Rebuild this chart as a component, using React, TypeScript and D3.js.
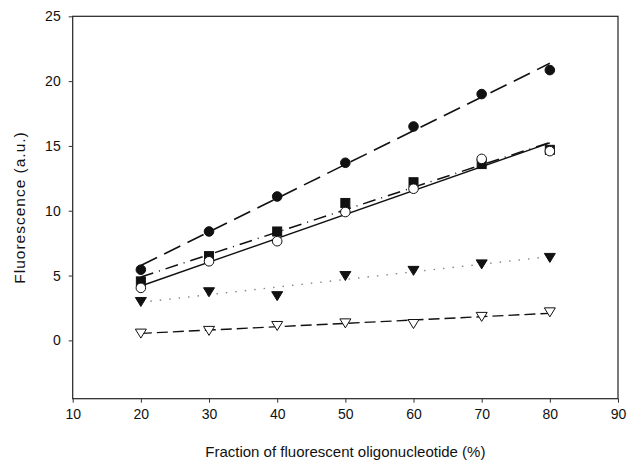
import React, { useEffect, useRef } from "react";
import * as d3 from "d3";

// fraction of fluorescent oligo (%)
const fractions = [20, 30, 40, 50, 60, 70, 80];

// fluorescence readings per series
const filledCircle = [5.45, 8.4, 11.1, 13.7, 16.5, 19.0, 20.85];
const filledSquare = [4.55, 6.5, 8.4, 10.6, 12.2, 13.6, 14.7];
const openCircle = [4.05, 6.1, 7.65, 9.9, 11.7, 14.0, 14.6];
const filledTriangle = [3.0, 3.75, 3.45, 5.0, 5.4, 5.9, 6.4];
const openTriangle = [0.56, 0.77, 1.15, 1.35, 1.3, 1.85, 2.2];

const xTicks = [10, 20, 30, 40, 50, 60, 70, 80, 90];
const yTicks = [0, 5, 10, 15, 20, 25];

const W = 628;
const H = 464;

// least squares fit, drawn over the data range like the original plot
const fit = (xs: number[], ys: number[]) => {
    const mx = d3.mean(xs)!;
    const my = d3.mean(ys)!;
    let num = 0, den = 0;
    xs.forEach((x, i) => {
        num += (x - mx) * (ys[i] - my);
        den += (x - mx) * (x - mx);
    });
    const b = num / den;
    const a = my - b * mx;
    return [xs[0], xs[xs.length - 1]].map(x => [x, a + b * x]);
};

const App = () => {
    const svgRef = useRef<SVGSVGElement>(null);

    useEffect(() => {
        const svg = d3.select(svgRef.current);
        svg.selectAll("*").remove();

        const x = d3.scaleLinear().domain([10, 90]).range([72.7, 618]);
        const y = d3.scaleLinear().domain([-4.5, 25]).range([398.7, 16.3]);
        const font = "Arial, 'Liberation Sans', sans-serif";

        svg.append("rect").attr("width", W).attr("height", H).attr("fill", "#fff");

        // frame
        svg.append("rect")
            .attr("x", x(10)).attr("y", y(25))
            .attr("width", x(90) - x(10)).attr("height", y(-4.5) - y(25))
            .attr("fill", "none").attr("stroke", "#222").attr("stroke-width", 1.2);

        // x axis
        const xAxis = svg.append("g")
            .attr("transform", `translate(0,${y(-4.5)})`)
            .call(d3.axisBottom(x).tickValues(xTicks).tickSize(4).tickPadding(6));
        xAxis.select(".domain").remove();
        xAxis.selectAll("line").attr("stroke", "#333");
        xAxis.selectAll("text").attr("font-family", font).attr("font-size", 14).attr("fill", "#111");

        // y axis
        const yAxis = svg.append("g")
            .attr("transform", `translate(${x(10)},0)`)
            .call(d3.axisLeft(y).tickValues(yTicks).tickSize(4).tickPadding(8));
        yAxis.select(".domain").remove();
        yAxis.selectAll("line").attr("stroke", "#333");
        yAxis.selectAll("text").attr("font-family", font).attr("font-size", 14).attr("fill", "#111");

        // titles
        svg.append("text")
            .attr("x", (x(10) + x(90)) / 2).attr("y", 457)
            .attr("text-anchor", "middle")
            .attr("font-family", font).attr("font-size", 15).attr("fill", "#111")
            .text("Fraction of fluorescent oligonucleotide (%)");
        svg.append("text")
            .attr("transform", `translate(25,${(y(25) + y(-4.5)) / 2}) rotate(-90)`)
            .attr("text-anchor", "middle")
            .attr("font-family", font).attr("font-size", 15.5).attr("fill", "#111")
            .attr("letter-spacing", 1)
            .text("Fluorescence (a.u.)");

        const line = d3.line<number[]>().x(d => x(d[0])).y(d => y(d[1]));

        const series = [
            { vals: filledCircle, dash: "18,8", color: "#111", width: 1.6, mark: "circle", fill: "#111" },
            { vals: filledSquare, dash: "13,6,1,6", color: "#111", width: 1.5, mark: "square", fill: "#111" },
            { vals: openCircle, dash: null, color: "#111", width: 1.4, mark: "circle", fill: "#fff" },
            { vals: filledTriangle, dash: "1.5,8", color: "#888", width: 1.4, mark: "triangle", fill: "#111" },
            { vals: openTriangle, dash: "11,5", color: "#111", width: 1.4, mark: "triangle", fill: "#fff" },
        ];

        // fit lines first
        series.forEach(s => {
            svg.append("path")
                .attr("d", line(fit(fractions, s.vals)))
                .attr("fill", "none")
                .attr("stroke", s.color)
                .attr("stroke-width", s.width)
                .attr("stroke-dasharray", s.dash);
        });

        // markers
        series.forEach(s => {
            const g = svg.append("g");
            const pts = fractions.map((f, i) => [f, s.vals[i]]);
            if (s.mark === "circle") {
                g.selectAll("circle").data(pts).enter().append("circle")
                    .attr("cx", d => x(d[0])).attr("cy", d => y(d[1])).attr("r", 4.8)
                    .attr("fill", s.fill).attr("stroke", "#111").attr("stroke-width", 1);
            } else if (s.mark === "square") {
                g.selectAll("rect").data(pts).enter().append("rect")
                    .attr("x", d => x(d[0]) - 4.5).attr("y", d => y(d[1]) - 4.5)
                    .attr("width", 9).attr("height", 9)
                    .attr("fill", s.fill).attr("stroke", "#111").attr("stroke-width", 1);
            } else {
                g.selectAll("path").data(pts).enter().append("path")
                    .attr("d", d => {
                        const cx = x(d[0]), cy = y(d[1]);
                        return `M${cx - 5.5},${cy - 4} L${cx + 5.5},${cy - 4} L${cx},${cy + 5} Z`;
                    })
                    .attr("fill", s.fill).attr("stroke", "#111").attr("stroke-width", 1);
            }
        });

        return () => {
            svg.selectAll("*").remove();
        };
    }, []);

    return (
        <svg ref={svgRef} width={W} height={H}
            style={{ position: "absolute", left: 0, top: 0, display: "block" }} />
    );
};

export default App;
